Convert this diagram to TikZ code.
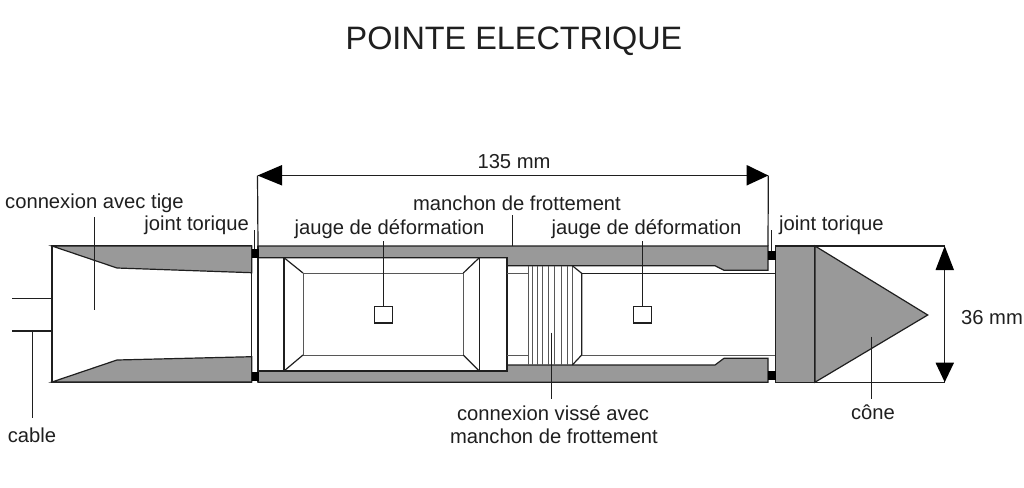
\documentclass[tikz,border=0pt]{standalone}
\usepackage{fontspec}
\setmainfont{Liberation Sans}
\definecolor{gr}{gray}{0.6}
\definecolor{ink}{gray}{0.12}
\tikzset{
  part/.style={draw=ink,line width=1.2pt,line join=miter},
  thin part/.style={draw=ink!75,line width=1pt},
  metal/.style={part,fill=gr},
  leader/.style={draw=ink,line width=0.9pt},
  seal/.style={fill=black},
  lab/.style={inner sep=0pt,font=\fontsize{20.2}{22}\selectfont,text=ink},
  head/.style={fill=black}
}
\begin{document}
\begin{tikzpicture}[x=1pt,y=-1pt]
\useasboundingbox (0,0) rectangle (1024,487);
\fill[white] (0,0) rectangle (1024,487);
\node[inner sep=0pt,font=\fontsize{32.4}{36}\selectfont,text=ink] (title) at (514,41.5) {POINTE ELECTRIQUE};
% left adapter
\draw[part] (52,246) rectangle (251.7,382);
\draw[metal] (52,246) -- (251.7,246) -- (251.7,272.7) -- (117,268) -- cycle;
\draw[metal] (52,382) -- (251.7,382) -- (251.7,356.7) -- (117,360) -- cycle;
\draw[part] (12,298.7) -- (52,298.7);
\draw[part] (12,331) -- (52,331);
% sleeve
\draw[metal] (258,246) -- (768,246) -- (768,270.3) -- (724,270.3) -- (715,265.7) -- (507,265.7) -- (507,257.7) -- (258,257.7) -- cycle;
\draw[metal] (258,382.2) -- (768,382.2) -- (768,358.3) -- (724,358.3) -- (715,365) -- (507,365) -- (507,371) -- (258,371) -- cycle;
% body
\draw[part] (258,246) -- (258,382);
\draw[part] (258,257.7) -- (507,257.7) -- (507,371) -- (258,371);
\draw[part] (284,257.7) -- (284,371);
\draw[part] (479.3,257.7) -- (479.3,371);
\draw[thin part] (303,273) rectangle (463.3,355);
\draw[part] (284,257.7) -- (303,273);
\draw[part] (479.3,257.7) -- (463.3,273);
\draw[part] (284,371) -- (303,355);
\draw[part] (479.3,371) -- (463.3,355);
\draw[part] (374.3,306.7) rectangle (392.7,323);
\draw[part] (633.3,306.7) rectangle (651.7,323);
% threads
\draw[thin part] (507,273.3) -- (528.3,273.3);
\draw[thin part] (507,355) -- (528.3,355);
\foreach \tx in {528.3,532.3,537.3,542.3,548.7,554.3,561,567.7,572.3}
  \draw[thin part] (\tx,265.7) -- (\tx,365);
\draw[part] (572.3,265.7) -- (581.7,273.3) -- (581.7,355) -- (572.3,365);
\draw[part] (581.7,273.3) -- (776,273.3);
\draw[thin part] (581.7,355) -- (776,355);
% tip
\draw[metal] (775.7,246) rectangle (815,382.2);
\draw[metal] (815,246) -- (927.7,315) -- (815,382.2) -- cycle;
% seals
\fill[seal] (251.5,248.5) rectangle (258.5,257.5);
\fill[seal] (251.5,371.5) rectangle (258.5,380.5);
\fill[seal] (768,251) rectangle (776,259.5);
\fill[seal] (768,371) rectangle (776,380);
% dim 36
\coordinate (d1) at (944.7,246);
\coordinate (d2) at (944.7,382.2);
\draw[part] (815,246) -- (d1);
\draw[part] (815,382.2) -- (d2);
\draw[part] (d1) -- (d2);
\fill[head] (d1) -- (954,270) -- (935.5,270) -- cycle;
\fill[head] (d2) -- (954,362.7) -- (935.5,362.7) -- cycle;
% dim 135
\coordinate (e1) at (257.5,175.5);
\coordinate (e2) at (768.3,175.5);
\draw[part] (e1) -- (258,246);
\draw[part] (e2) -- (768,246);
\draw[part] (e1) -- (e2);
\fill[head] (e1) -- (282,165) -- (282,185.5) -- cycle;
\fill[head] (e2) -- (746.7,165) -- (746.7,185.5) -- cycle;
% labels
\node[lab] (l135) at (514,162) {135 mm};
\node[lab] (lman) at (517,203) {manchon de frottement};
\node[lab,anchor=west] (lcon) at (5,203.5) {connexion avec tige};
\node[lab,anchor=east] (ljl) at (249,225) {joint torique};
\node[lab,anchor=west] (ljr) at (779,225) {joint torique};
\node[lab] (lj1) at (389.5,229.5) {jauge de déformation};
\node[lab] (lj2) at (646.5,229.5) {jauge de déformation};
\node[lab] (l36) at (992,317.5) {36 mm};
\node[lab] (lcone) at (873,412.5) {cône};
\node[lab] (lcable) at (32,435.5) {cable};
\node[lab] (lv1) at (553,413.5) {connexion vissé avec};
\node[lab] (lv2) at (554,436.5) {manchon de frottement};
% leaders
\draw[leader] (94,217) -- (94,310);
\draw[leader] (32,331) -- (32,418);
\draw[leader] (254,230) -- (254,249);
\draw[leader] (771.7,230) -- (771.7,251);
\draw[leader] (512.7,215) -- (512.7,246);
\draw[leader] (383.3,241) -- (383.3,306.7);
\draw[leader] (642.3,241) -- (642.3,306.7);
\draw[leader] (551.6,332.7) -- (551.6,399);
\draw[leader] (871.3,336.7) -- (871.3,399);
\end{tikzpicture}
\end{document}
